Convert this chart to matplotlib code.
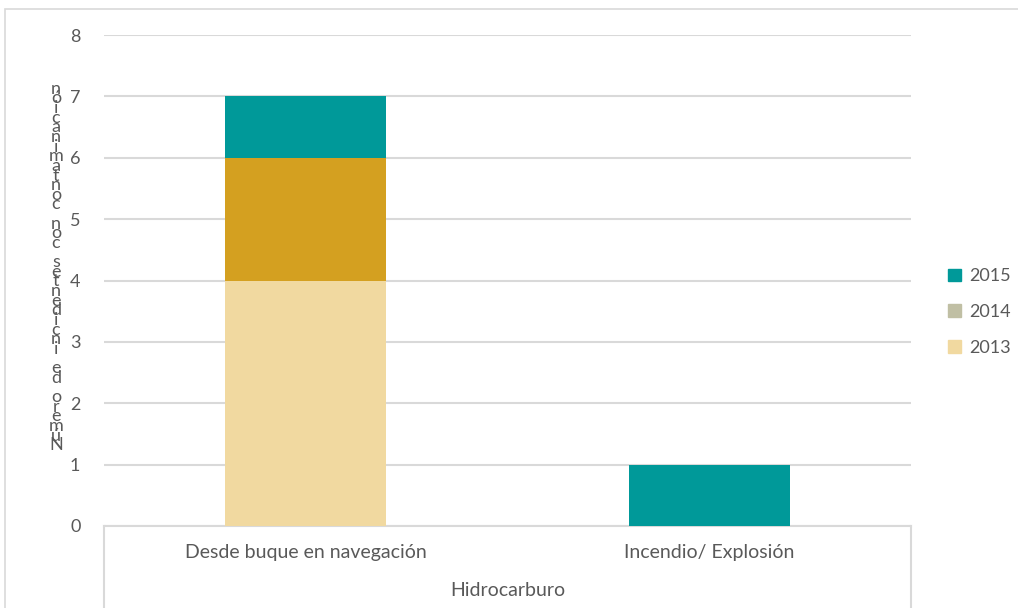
import matplotlib.pyplot as plt
from matplotlib.patches import Patch, Rectangle
from matplotlib.lines import Line2D
import numpy as np

plt.rcParams['font.family'] = ['Lato', 'DejaVu Sans']

categories = ['Desde buque en navegación', 'Incendio/ Explosión']
group_label = 'Hidrocarburo'
years = ['2013', '2014', '2015']
values_2013 = [4, 0]
values_2014 = [2, 0]
values_2015 = [1, 1]
bar_colors = ['#F1D9A0', '#D4A020', '#009999']
legend_colors = ['#F1D9A0', '#C0BFA4', '#009999']
ylabel = 'Número de incidentes con contaminación'

text_color = '#595959'
grid_color = '#D9D9D9'

fig = plt.figure(figsize=(10.18, 6.08), dpi=100)
W, H = 1018, 608

# outer chart frame
fig.patches.append(Rectangle((5 / W, -0.01), 1.1, 1 - 9 / H + 0.01, transform=fig.transFigure,
                             fill=False, edgecolor=grid_color, linewidth=1.2))

ax = fig.add_axes([104 / W, (H - 526) / H, (911 - 104) / W, (526 - 35) / H])

x = np.arange(len(categories))
bottom = np.zeros(len(categories))
for vals, color in zip([values_2013, values_2014, values_2015], bar_colors):
    ax.bar(x, vals, width=0.4, bottom=bottom, color=color, zorder=3)
    bottom += np.array(vals)

ax.set_xlim(-0.5, 1.5)
ax.set_ylim(0, 8)
ax.set_yticks(range(0, 9))
ax.yaxis.grid(True, color=grid_color, linewidth=1.5, zorder=0)
ax.tick_params(axis='y', length=0, pad=17, labelsize=13, labelcolor=text_color)
ax.set_xticks([])
for side in ['top', 'right', 'left']:
    ax.spines[side].set_visible(False)
ax.spines['bottom'].set_color(grid_color)
ax.spines['bottom'].set_linewidth(1.5)

# category box below the axis
for xf in [104 / W, 911 / W]:
    fig.add_artist(Line2D([xf, xf], [0, (H - 526) / H], color=grid_color, linewidth=1.5))
for xi, cat in zip(x, categories):
    ax.text(xi, -0.43, cat, ha='center', va='center', fontsize=14, color=text_color)
fig.text((104 + 911) / 2 / W, 1 - 591 / H, group_label, ha='center', va='center',
         fontsize=14, color=text_color)

# stacked vertical y label (characters from bottom to top)
stacked = '\n'.join(reversed(ylabel))
fig.text(56 / W, 1 - 267 / H, stacked, ha='center', va='center', fontsize=13,
         color=text_color, linespacing=0.51, multialignment='center')

handles = [Patch(color=c) for c in reversed(legend_colors)]
fig.legend(handles, list(reversed(years)), loc='center left', bbox_to_anchor=(932 / W, 1 - 312 / H),
           frameon=False, fontsize=13, labelcolor=text_color, handlelength=0.7, handleheight=0.7,
           labelspacing=1.1, handletextpad=0.45)

plt.savefig('out.png', dpi=100)
